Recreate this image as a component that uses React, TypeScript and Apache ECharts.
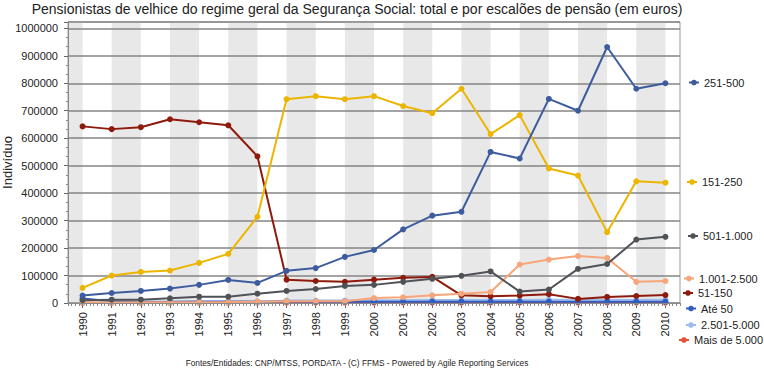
import React, { useEffect, useRef } from "react";
import * as echarts from "echarts";

const categories = ["1990","1991","1992","1993","1994","1995","1996","1997","1998","1999","2000","2001","2002","2003","2004","2005","2006","2007","2008","2009","2010"];

const s251_500 = [27000, 36500, 44000, 52500, 66000, 84000, 73000, 117000, 127000, 168000, 193000, 268000, 318000, 332000, 550000, 526000, 743000, 700000, 932000, 780000, 800000];
const s151_250 = [55000, 100000, 113000, 118000, 146000, 179000, 314000, 742000, 753000, 742000, 753000, 717000, 691000, 780000, 615000, 684000, 490000, 464000, 258000, 443000, 438000];
const s501_1000 = [10000, 12000, 12000, 17000, 23000, 23000, 34000, 44000, 51000, 62000, 66000, 77000, 88000, 99000, 115000, 41500, 49000, 124000, 142000, 231000, 241000];
const s1001_2500 = [2000, 2000, 2500, 2500, 3000, 3500, 5000, 6000, 6000, 6000, 18000, 21000, 28000, 34000, 40000, 140000, 158000, 171000, 164000, 77000, 80000];
const s51_150 = [643000, 633000, 640000, 669000, 658000, 647000, 534000, 85000, 80000, 77000, 85000, 92000, 95000, 28000, 24500, 27000, 32000, 15000, 22000, 25500, 29000];
const sAte50 = [16000, 6000, 5000, 5000, 5500, 5500, 5500, 5500, 5000, 5000, 5000, 5000, 5000, 5000, 5000, 5000, 5000, 5000, 5000, 5000, 5000];
const s2501_5000 = [1000, 1000, 1000, 1000, 1500, 1500, 2000, 9000, 9000, 9000, 10000, 10000, 11000, 11000, 11000, 11000, 12000, 12000, 12000, 12000, 12000];
const sMais5000 = [500, 500, 500, 500, 500, 500, 1500, 1500, 1500, 1500, 1500, 1500, 1500, 1500, 1500, 1500, 1500, 1500, 1500, 1500, 1500];

const seriesNames = ["251-500", "151-250", "501-1.000", "1.001-2.500", "51-150", "Até 50", "2.501-5.000", "Mais de 5.000"];
const seriesValues = [s251_500, s151_250, s501_1000, s1001_2500, s51_150, sAte50, s2501_5000, sMais5000];
const seriesColors = ["#3d5c9e", "#ecb500", "#4f5357", "#f7a57a", "#8e1a0c", "#2e5cc2", "#9dbbe8", "#e65236"];

const yTickStep = 100000;

const titleText = "Pensionistas de velhice do regime geral da Segurança Social: total e por escalões de pensão (em euros)";
const footerText = "Fontes/Entidades: CNP/MTSS, PORDATA - (C) FFMS - Powered by Agile Reporting Services";
const yAxisName = "Indivíduo";

// layout
const GRID = { left: 68, right: 84, top: 22, bottom: 69 };
const legendPos = [
  { left: 688, yc: 84 },
  { left: 686, yc: 183.5 },
  { left: 687, yc: 237.5 },
  { left: 683, yc: 280 },
  { left: 682, yc: 294.5 },
  { left: 685, yc: 310 },
  { left: 685, yc: 326.5 },
  { left: 678, yc: 341.5 },
];

export default function App() {
  const ref = useRef<HTMLDivElement>(null);
  useEffect(() => {
    if (!ref.current) return;
    const chart = echarts.init(ref.current, null, { renderer: "svg" });
    const font = "'Liberation Sans', Arial, sans-serif";

    const bands: any[] = [];
    for (let i = 1; i + 1 < categories.length; i += 2) {
      bands.push([{ xAxis: categories[i] }, { xAxis: categories[i + 1] }]);
    }

    const option: any = {
      animation: false,
      textStyle: { fontFamily: font },
      grid: { ...GRID, show: true, borderColor: "#9a9a9a", borderWidth: 1, backgroundColor: "#fff", containLabel: false, outerBoundsMode: "none" },
      xAxis: [
        {
          type: "category",
          data: categories,
          boundaryGap: true,
          axisLine: { show: true, lineStyle: { color: "#8a8a8a", width: 1 } },
          axisTick: { show: true, alignWithLabel: true, length: 5, lineStyle: { color: "#666" } },
          axisLabel: { rotate: 90, fontSize: 11, color: "#222", margin: 9, fontFamily: font },
          splitLine: { show: false },
          z: 3,
        },
        {
          type: "value",
          position: "bottom",
          min: 0,
          max: categories.length * 8,
          interval: 1,
          axisLine: { show: false },
          axisTick: { show: true, length: 3, lineStyle: { color: "#888" } },
          axisLabel: { show: false },
          splitLine: { show: false },
          z: 3,
        },
      ],
      yAxis: {
        type: "value",
        min: 0,
        max: 1023000,
        interval: yTickStep,
        name: yAxisName,
        nameLocation: "middle",
        nameRotate: 90,
        nameGap: 54,
        nameMoveOverlap: false,
        nameTextStyle: { fontSize: 13, color: "#222", fontFamily: font },
        axisLine: { show: true, lineStyle: { color: "#8a8a8a" } },
        axisTick: { show: true, length: 4, lineStyle: { color: "#666" } },
        minorTick: { show: true, splitNumber: 3, length: 2, lineStyle: { color: "#888" } },
        axisLabel: { fontSize: 11, color: "#222", margin: 10, showMaxLabel: false, fontFamily: font, formatter: (v: number) => String(v) },
        splitLine: { show: true, lineStyle: { color: "#858585", width: 1.5 } },
        z: 1.5,
      },
      legend: seriesNames.map((n, i) => ({
        data: [n],
        left: legendPos[i].left,
        top: legendPos[i].yc - 7,
        padding: 0,
        itemWidth: 10,
        itemHeight: 7,
        selectedMode: false,
        textStyle: { fontSize: 11, color: "#222", fontFamily: font },
      })),
      series: [
        {
          type: "line",
          name: "__bands",
          data: categories.map(() => null),
          silent: true,
          z: 1,
          markArea: { silent: true, itemStyle: { color: "#e8e8e8" }, data: bands },
        },
        ...seriesNames.map((n, i) => ({
          type: "line",
          name: n,
          data: seriesValues[i],
          color: seriesColors[i],
          symbol: "circle",
          symbolSize: 6,
          lineStyle: { width: 2, color: seriesColors[i] },
          itemStyle: { color: seriesColors[i] },
          z: 2 + (seriesNames.length - i) * 0.01,
        })),
      ],
    };
    chart.setOption(option);

    const x0 = chart.convertToPixel({ xAxisIndex: 0 }, categories[0]) as number;
    chart.setOption({
      graphic: [
        {
          type: "rect",
          z: 1,
          silent: true,
          shape: { x: GRID.left, y: GRID.top, width: x0 - GRID.left, height: 372 - GRID.top - GRID.bottom },
          style: { fill: "#e8e8e8" },
        },
        {
          type: "text",
          x: 357,
          y: 9,
          style: { text: titleText, textAlign: "center", textVerticalAlign: "middle", fontSize: 14, fill: "#222", fontFamily: font },
        },
        {
          type: "text",
          x: 357,
          y: 363,
          style: { text: footerText, textAlign: "center", textVerticalAlign: "middle", fontSize: 8.3, fill: "#222", fontFamily: font },
        },
      ],
    });

    return () => chart.dispose();
  }, []);
  return <div ref={ref} style={{ width: 764, height: 372, position: "absolute", left: 0, top: 0 }} />;
}
